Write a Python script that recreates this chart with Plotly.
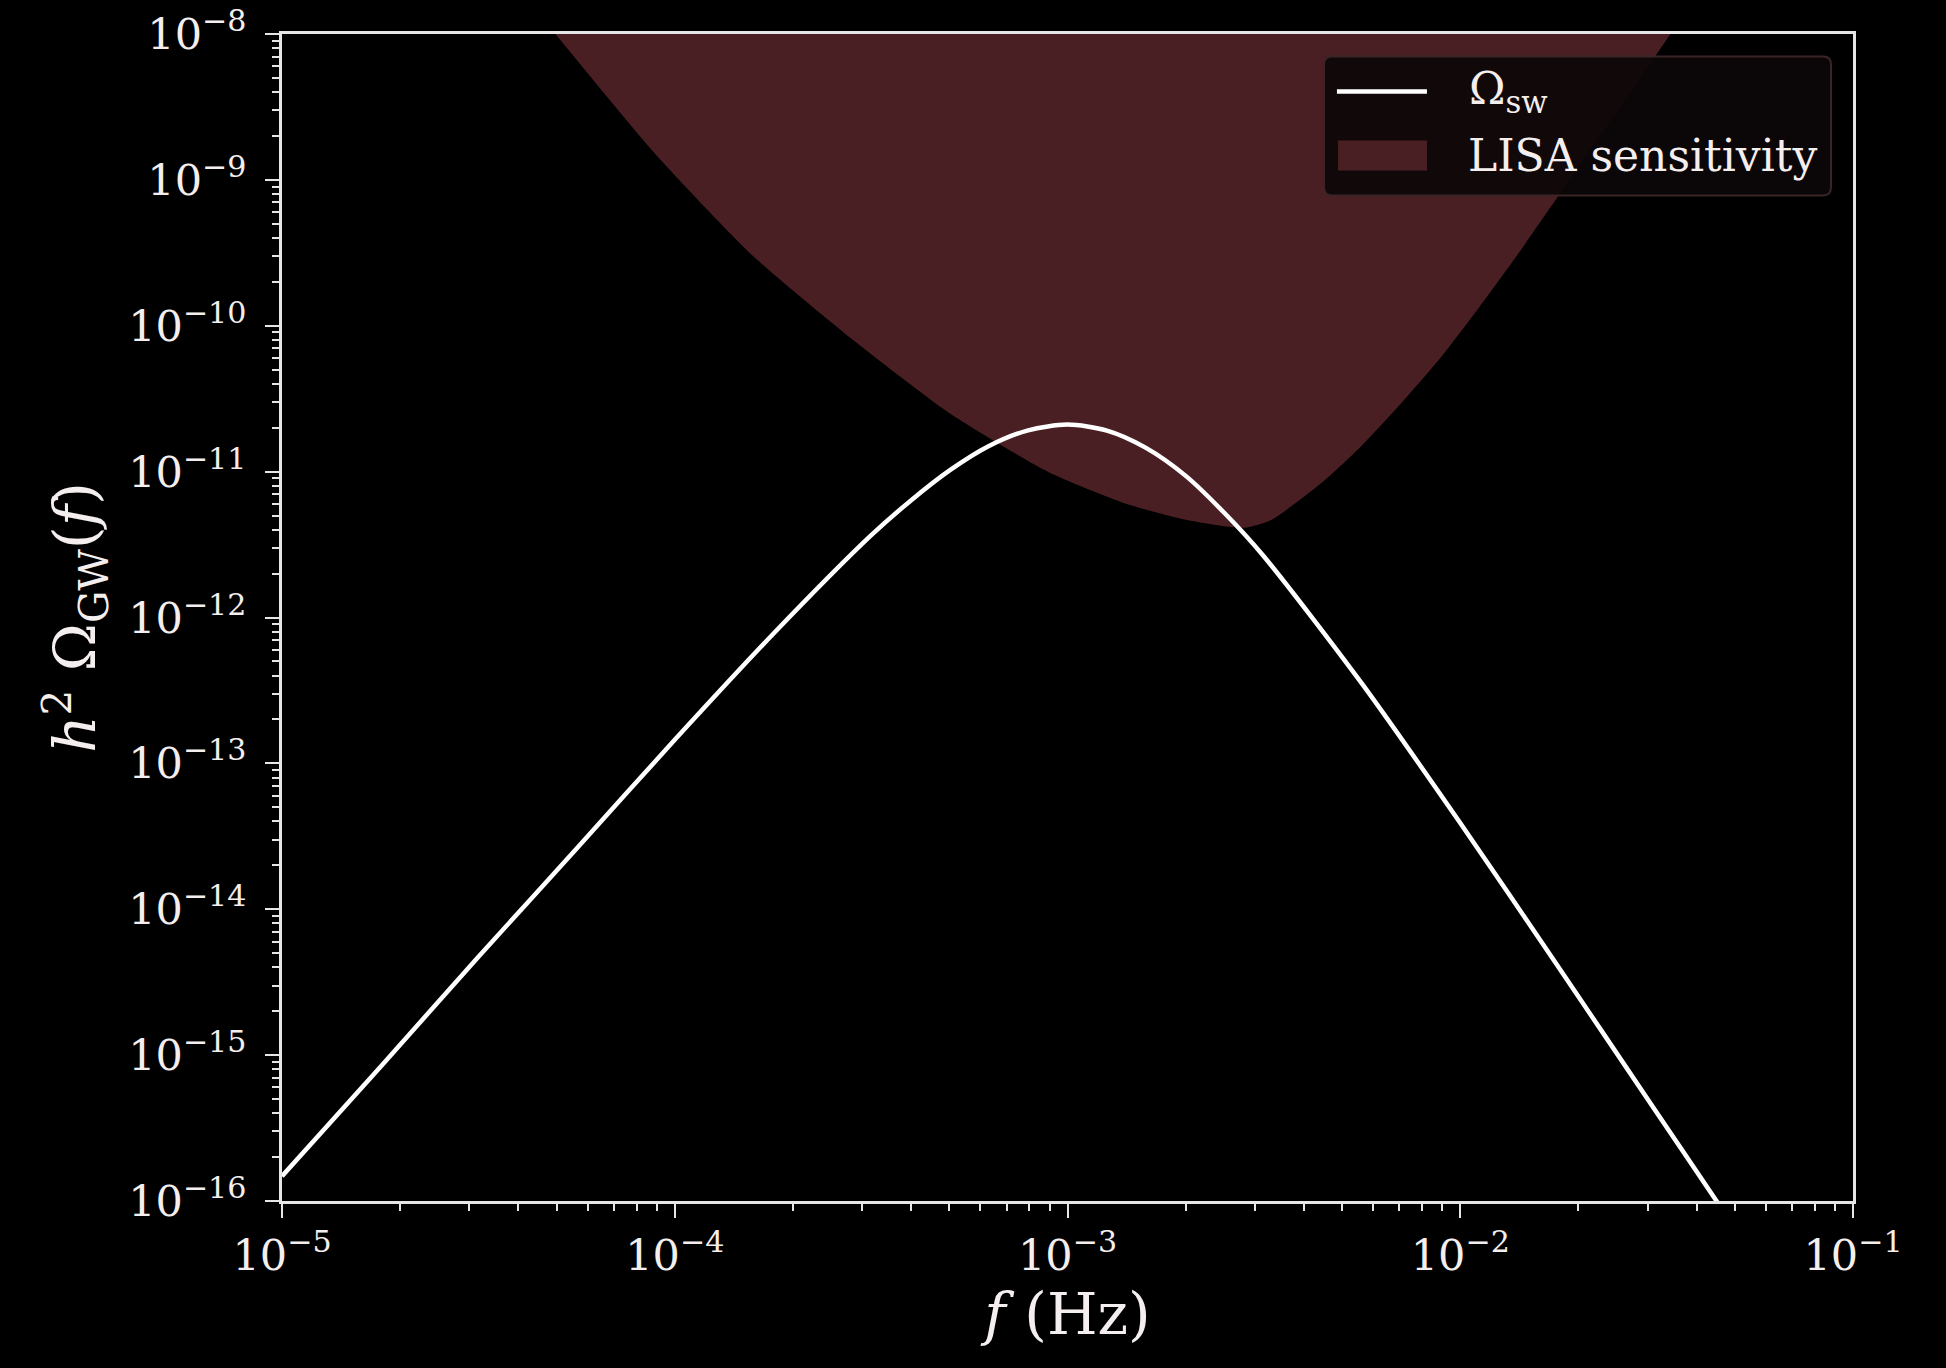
import plotly.graph_objects as go

# ---- data ----
# Omega_sw curve
sw_freq = [1.0e-5, 1.78e-5, 3.16e-5, 5.62e-5, 1.0e-4, 1.78e-4, 3.16e-4, 3.98e-4,
           5.01e-4, 6.31e-4, 7.94e-4, 1.0e-3, 1.26e-3, 1.58e-3, 2.0e-3, 2.51e-3,
           3.16e-3, 5.62e-3, 1.0e-2, 1.78e-2, 3.16e-2, 4.47e-2, 5.62e-2]
sw_omega = [1.48e-16, 8.3e-16, 4.7e-15, 2.6e-14, 1.45e-13, 7.7e-13, 3.65e-12, 6.3e-12,
            1.02e-11, 1.5e-11, 1.92e-11, 2.1e-11, 1.91e-11, 1.46e-11, 9.35e-12, 5.2e-12,
            2.63e-12, 3.52e-13, 3.9e-14, 4.0e-15, 4.06e-16, 1.02e-16, 4.1e-17]

# LISA sensitivity boundary (lower edge of the shaded region)
lisa_freq = [4.97e-5, 8.91e-5, 1.58e-4, 2.82e-4, 5.01e-4, 8.91e-4, 1.41e-3, 2.0e-3,
             2.82e-3, 3.31e-3, 4.47e-3, 5.62e-3, 7.08e-3, 8.91e-3, 1.12e-2, 1.41e-2,
             1.82e-2, 2.51e-2, 3.43e-2]
lisa_omega = [1.0e-8, 1.51e-9, 3.02e-10, 8.13e-11, 2.51e-11, 1.0e-11, 6.03e-12, 4.68e-12,
              4.12e-12, 4.68e-12, 8.51e-12, 1.51e-11, 2.95e-11, 6.03e-11, 1.35e-10, 3.16e-10,
              8.51e-10, 2.95e-9, 1.0e-8]

x_exps = [-5, -4, -3, -2, -1]
y_exps = [-16, -15, -14, -13, -12, -11, -10, -9, -8]

legend_labels = ["Ω<sub>sw</sub>", "LISA sensitivity"]

FONT = "DejaVu Serif"
FILL = "#4a1f23"
AXC = "#e6e6e6"
TXT = "#f4eeee"

fig = go.Figure()
fig.add_trace(go.Scatter(
    x=lisa_freq, y=lisa_omega, mode="lines", name=legend_labels[1],
    fill="toself", fillcolor=FILL, showlegend=False,
    line=dict(color=FILL, width=0, shape="spline", smoothing=0.6),
))
fig.add_trace(go.Scatter(
    x=sw_freq, y=sw_omega, mode="lines", name=legend_labels[0], showlegend=False,
    line=dict(color="#ffffff", width=4.5, shape="spline", smoothing=0.8),
))

def minor_vals(lo, hi):
    return [k * 10.0 ** e for e in range(lo, hi) for k in range(2, 10)]

# ---- hand-drawn legend (paper coordinates) ----
bx0, bx1, by0, by1 = 0.6633, 0.986, 0.8617, 0.9807
rx, ry = 0.005, 0.007
box_path = (f"M{bx0+rx},{by0} L{bx1-rx},{by0} Q{bx1},{by0} {bx1},{by0+ry} "
            f"L{bx1},{by1-ry} Q{bx1},{by1} {bx1-rx},{by1} L{bx0+rx},{by1} "
            f"Q{bx0},{by1} {bx0},{by1-ry} L{bx0},{by0+ry} Q{bx0},{by0} {bx0+rx},{by0} Z")
shapes = [
    dict(type="path", xref="paper", yref="paper", path=box_path,
         fillcolor="rgba(12,7,8,0.92)", line=dict(color="#3a2426", width=2), layer="above"),
    dict(type="line", xref="paper", yref="paper", x0=0.6715, x1=0.7288, y0=0.9507, y1=0.9507,
         line=dict(color="#ffffff", width=4.5), layer="above"),
    dict(type="rect", xref="paper", yref="paper", x0=0.6722, x1=0.7288, y0=0.8831, y1=0.9088,
         fillcolor=FILL, line=dict(width=0), layer="above"),
]
annotations = [
    dict(xref="paper", yref="paper", x=0.7545, y=0.951, xanchor="left", yanchor="middle",
         text=legend_labels[0], showarrow=False, font=dict(family=FONT, size=44, color=TXT)),
    dict(xref="paper", yref="paper", x=0.7537, y=0.896, xanchor="left", yanchor="middle",
         text=legend_labels[1], showarrow=False, font=dict(family=FONT, size=44, color=TXT)),
]

fig.update_layout(
    width=1946, height=1368,
    paper_bgcolor="black", plot_bgcolor="black",
    margin=dict(l=282, r=93, t=34, b=167, autoexpand=False),
    font=dict(family=FONT, color=TXT, size=42),
    showlegend=False,
    shapes=shapes,
    annotations=annotations,
)

fig.update_xaxes(
    type="log", range=[-5, -1], automargin=False,
    tickmode="array",
    tickvals=[10.0 ** e for e in x_exps],
    ticktext=[f"10<sup>−{abs(e)}</sup>" for e in x_exps],
    ticks="outside", ticklen=14, tickwidth=2, tickcolor=AXC,
    showline=True, linecolor=AXC, linewidth=3, mirror=True,
    showgrid=False, zeroline=False,
    tickfont=dict(family=FONT, size=43, color=TXT),
    minor=dict(tickmode="array", tickvals=minor_vals(-5, -1),
               ticks="outside", ticklen=7, tickwidth=2, tickcolor=AXC, showgrid=False),
    title=dict(text="<i>f</i> (Hz)", font=dict(family=FONT, size=58, color=TXT),
               standoff=14),
)
fig.update_yaxes(
    type="log", range=[-16, -8], automargin=False,
    tickmode="array",
    tickvals=[10.0 ** e for e in y_exps],
    ticktext=[f"10<sup>−{abs(e)}</sup>" for e in y_exps],
    ticks="outside", ticklen=14, tickwidth=2, tickcolor=AXC,
    ticklabelstandoff=10,
    showline=True, linecolor=AXC, linewidth=3, mirror=True,
    showgrid=False, zeroline=False,
    tickfont=dict(family=FONT, size=43, color=TXT),
    minor=dict(tickmode="array", tickvals=minor_vals(-16, -8),
               ticks="outside", ticklen=7, tickwidth=2, tickcolor=AXC, showgrid=False),
    title=dict(text="<i>h</i><sup>2</sup> Ω<sub>GW</sub>(<i>f</i>)",
               font=dict(family=FONT, size=58, color=TXT), standoff=14),
)

fig.write_html("out.html")
